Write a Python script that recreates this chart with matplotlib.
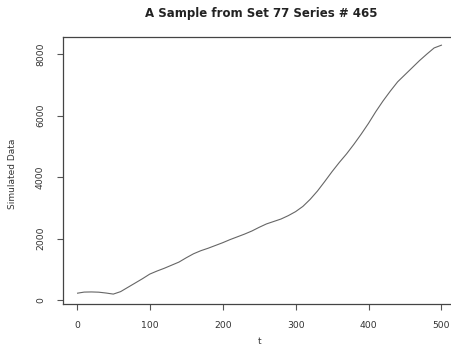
import numpy as np
import matplotlib
matplotlib.use("Agg")
import matplotlib.pyplot as plt

# values
t = [1, 10, 20, 30, 40, 50, 60, 70, 80, 90, 100, 110, 120, 130, 140, 150, 160, 170,
     180, 190, 200, 210, 220, 230, 240, 250, 260, 270, 280, 290, 300, 310, 320, 330,
     340, 350, 360, 370, 380, 390, 400, 410, 420, 430, 440, 450, 460, 470, 480, 490, 500]
sim = [230, 265, 270, 262, 235, 200, 280, 420, 560, 700, 850, 950, 1040, 1140, 1240,
       1380, 1510, 1610, 1690, 1780, 1870, 1970, 2060, 2150, 2250, 2370, 2480, 2560,
       2640, 2750, 2880, 3050, 3280, 3550, 3860, 4180, 4480, 4760, 5070, 5400, 5750,
       6130, 6480, 6800, 7100, 7330, 7560, 7790, 8000, 8200, 8290]
xticks = [0, 100, 200, 300, 400, 500]
yticks = [0, 2000, 4000, 6000, 8000]

plt.rcParams['font.family'] = ['DejaVu Sans']
txt = '#333333'

fig = plt.figure(figsize=(4.51, 3.47), dpi=100)
ax = fig.add_axes([63/451, 1 - 304/347, (456 - 63)/451, (304 - 36.5)/347])
ax.plot(t, sim, color='#666666', lw=0.8)

ax.set_xlim(-19, 520)
ax.set_ylim(-122, 8572)
ax.set_xticks(xticks)
ax.set_yticks(yticks)
ax.set_yticklabels([str(v) for v in yticks], rotation=90, va='center')
ax.tick_params(axis='both', length=4, width=0.8, colors='#555555',
               labelcolor=txt, labelsize=6.7)
ax.tick_params(axis='x', pad=8)
ax.tick_params(axis='y', pad=9)
for s in ax.spines.values():
    s.set_color('#444444')
    s.set_linewidth(0.9)

fig.text(261/451, 1 - 14/347, 'A Sample from Set 77 Series # 465', ha='center',
         va='center', fontsize=8.5, fontweight='bold', color='#222222')
fig.text(13/451, 0.5, 'Simulated Data', rotation=90, ha='center', va='center',
         fontsize=6.5, color=txt)
fig.text(260/451, 1 - 342/347, 't', ha='center', va='center', fontsize=6.5, color=txt)

fig.savefig('out.png', dpi=100)
